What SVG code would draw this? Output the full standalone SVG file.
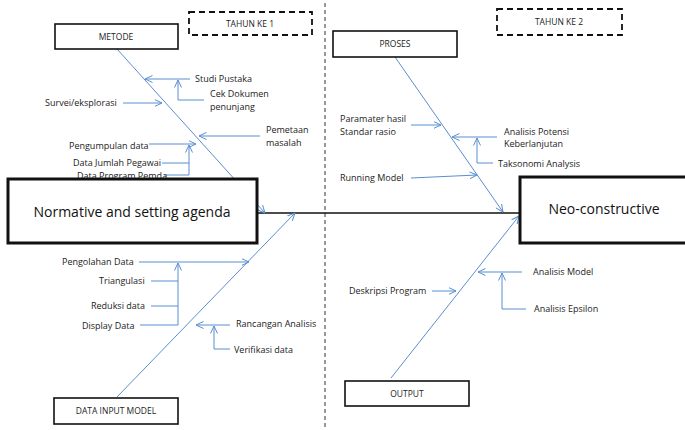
<svg xmlns="http://www.w3.org/2000/svg" width="685" height="430" viewBox="0 0 685 430">
<defs>
<marker id="arr" viewBox="0 0 8 8" refX="7.5" refY="4" markerWidth="8" markerHeight="8" markerUnits="userSpaceOnUse" orient="auto">
<path d="M0,0.5 L7.5,4 L0,7.5" fill="none" stroke="#5b8ed0" stroke-width="1"/>
</marker>
</defs>
<style>
.bone{stroke:#5b8ed0;stroke-width:1;fill:none}
.sub{stroke:#5b8ed0;stroke-width:1;fill:none}
.lbl{font-family:"Open Sans","Liberation Sans",sans-serif;font-size:9px;fill:#222}
.hdr{font-family:"Open Sans","Liberation Sans",sans-serif;font-size:8.5px;fill:#222;text-anchor:middle}
.big{font-family:"Open Sans","Liberation Sans",sans-serif;font-size:14px;fill:#111;text-anchor:middle}
.box{fill:#fff;stroke:#111;stroke-width:1.6}
.main{fill:#fff;stroke:#111;stroke-width:3}
.year{fill:none;stroke:#111;stroke-width:1.8;stroke-dasharray:6,4}
</style>
<rect width="685" height="430" fill="#fff"/>
<line x1="325" y1="3" x2="325" y2="430" stroke="#333" stroke-width="1" stroke-dasharray="4,3"/>
<g id="connectors">
<line x1="257" y1="213" x2="520" y2="213" stroke="#111" stroke-width="1.6"/>
<line class="bone" x1="117" y1="49" x2="265" y2="213" marker-end="url(#arr)"/>
<line class="bone" x1="117" y1="397" x2="295" y2="213" marker-end="url(#arr)"/>
<line class="bone" x1="395" y1="57" x2="503" y2="212" marker-end="url(#arr)"/>
<line class="bone" x1="391" y1="378" x2="519" y2="216" marker-end="url(#arr)"/>
<line class="sub" x1="190" y1="79" x2="145" y2="79" marker-end="url(#arr)"/>
<polyline class="sub" points="204,100 178,100 178,80" marker-end="url(#arr)"/>
<line class="sub" x1="123" y1="103" x2="162" y2="103" marker-end="url(#arr)"/>
<line class="sub" x1="260" y1="136" x2="199" y2="136" marker-end="url(#arr)"/>
<line class="sub" x1="149" y1="144" x2="196" y2="144" marker-end="url(#arr)"/>
<polyline class="sub" points="164,175 189,175 189,145" marker-end="url(#arr)"/>
<line class="sub" x1="162" y1="163" x2="189" y2="163"/>
<line class="sub" x1="139" y1="262" x2="249" y2="262" marker-end="url(#arr)"/>
<polyline class="sub" points="140,325 178,325 178,263" marker-end="url(#arr)"/>
<line class="sub" x1="151" y1="281" x2="178" y2="281"/>
<line class="sub" x1="151" y1="306" x2="178" y2="306"/>
<line class="sub" x1="230" y1="325" x2="196" y2="325" marker-end="url(#arr)"/>
<polyline class="sub" points="230,349 214,349 214,326" marker-end="url(#arr)"/>
<line class="sub" x1="411" y1="125" x2="441" y2="125" marker-end="url(#arr)"/>
<line class="sub" x1="497" y1="137" x2="452" y2="137" marker-end="url(#arr)"/>
<polyline class="sub" points="493,163 477,163 477,138" marker-end="url(#arr)"/>
<line class="sub" x1="411" y1="178" x2="477" y2="175" marker-end="url(#arr)"/>
<line class="sub" x1="522" y1="272" x2="478" y2="272" marker-end="url(#arr)"/>
<polyline class="sub" points="526,309 502,309 502,273" marker-end="url(#arr)"/>
<line class="sub" x1="432" y1="291" x2="456" y2="291" marker-end="url(#arr)"/>
</g>
<g id="labels">
<text class="lbl" x="195" y="82">Studi Pustaka</text>
<text class="lbl" x="210" y="97">Cek Dokumen</text>
<text class="lbl" x="210" y="110">penunjang</text>
<text class="lbl" x="45" y="106">Survei/eksplorasi</text>
<text class="lbl" x="266" y="133">Pemetaan</text>
<text class="lbl" x="266" y="146">masalah</text>
<text class="lbl" x="69" y="149">Pengumpulan data</text>
<text class="lbl" x="73" y="166">Data Jumlah Pegawai</text>
<text class="lbl" x="77" y="179">Data Program Pemda</text>
<text class="lbl" x="62" y="265">Pengolahan Data</text>
<text class="lbl" x="99" y="284">Triangulasi</text>
<text class="lbl" x="91" y="309">Reduksi data</text>
<text class="lbl" x="82" y="329">Display Data</text>
<text class="lbl" x="236" y="327">Rancangan Analisis</text>
<text class="lbl" x="234" y="353">Verifikasi data</text>
<text class="lbl" x="340" y="122">Paramater hasil</text>
<text class="lbl" x="340" y="135">Standar rasio</text>
<text class="lbl" x="504" y="135">Analisis Potensi</text>
<text class="lbl" x="504" y="147">Keberlanjutan</text>
<text class="lbl" x="498" y="167">Taksonomi Analysis</text>
<text class="lbl" x="340" y="181">Running Model</text>
<text class="lbl" x="533" y="275">Analisis Model</text>
<text class="lbl" x="534" y="312">Analisis Epsilon</text>
<text class="lbl" x="349" y="294">Deskripsi Program</text>
</g>
<g id="tahun1"><rect class="year" x="189" y="12" width="123" height="23"/><text class="hdr" x="250" y="27">TAHUN KE 1</text></g>
<g id="tahun2"><rect class="year" x="497" y="9" width="125" height="26"/><text class="hdr" x="559" y="25">TAHUN KE 2</text></g>
<g id="metode"><rect class="box" x="55" y="24" width="123" height="25"/><text class="hdr" x="116" y="40">METODE</text></g>
<g id="proses"><rect class="box" x="333" y="31" width="124" height="26"/><text class="hdr" x="395" y="47">PROSES</text></g>
<g id="datainput"><rect class="box" x="54" y="398" width="124" height="26"/><text class="hdr" x="116" y="414">DATA INPUT MODEL</text></g>
<g id="output"><rect class="box" x="345" y="381" width="124" height="25"/><text class="hdr" x="407" y="397">OUTPUT</text></g>
<g id="normative"><rect class="main" x="8" y="179" width="249" height="64"/><text class="big" x="132" y="217">Normative and setting agenda</text></g>
<g id="neo"><rect class="main" x="520" y="177" width="170" height="66"/><text class="big" x="604" y="214">Neo-constructive</text></g>
</svg>
